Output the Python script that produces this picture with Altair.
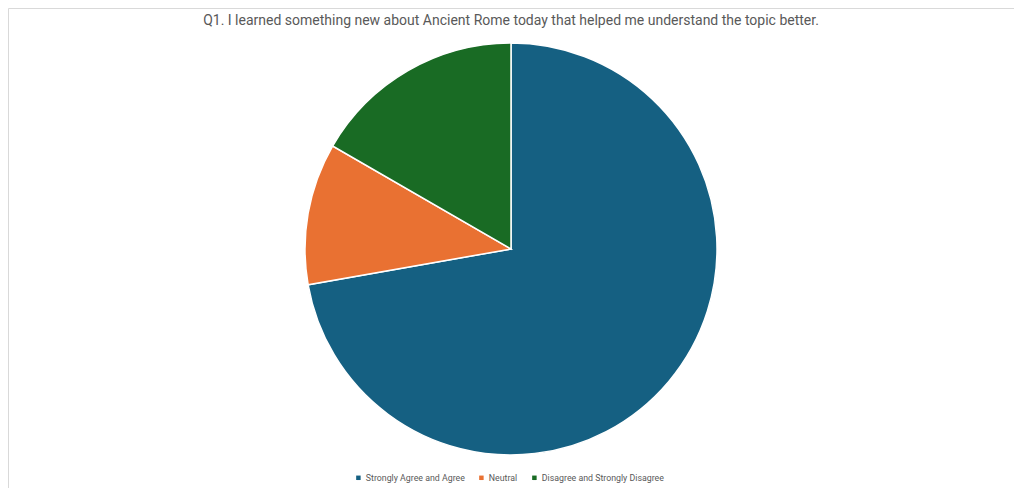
import altair as alt
import pandas as pd

categories = ["Strongly Agree and Agree", "Neutral", "Disagree and Strongly Disagree"]
counts = [13, 2, 3]
colors = ["#156082", "#E97132", "#196B24"]
title_text = "Q1. I learned something new about Ancient Rome today that helped me understand the topic better."

df = pd.DataFrame({"category": categories, "count": counts, "idx": list(range(len(categories)))})

W, H = 1006, 480
cx, cy, R = 503, 241, 206

pie = alt.Chart(df).mark_arc(stroke="white", strokeWidth=1.5, radius=R).encode(
    theta=alt.Theta("count:Q", stack=True),
    order=alt.Order("idx:Q"),
    color=alt.Color(
        "category:N",
        sort=categories,
        scale=alt.Scale(domain=categories, range=colors),
        legend=alt.Legend(
            title=None,
            orient="none",
            direction="horizontal",
            legendX=346,
            legendY=465,
            symbolType="square",
            symbolSize=20,
            symbolStrokeWidth=0,
            labelFontSize=8.8,
            labelColor="#595959",
            labelFont="Roboto",
            columnPadding=12,
            labelOffset=3,
        ),
    ),
    x=alt.value(cx),
    y=alt.value(cy),
)

title = alt.Chart(pd.DataFrame({"t": [title_text]})).mark_text(
    fontSize=14, font="Roboto", color="#595959", align="center", baseline="middle"
).encode(text="t:N", x=alt.value(cx), y=alt.value(13))

chart = alt.layer(pie, title).properties(
    width=W, height=H, padding=0, background="white"
).configure_view(stroke="#d9d9d9", strokeWidth=1)

chart.save("out.html", embed_options={"renderer": "svg", "actions": False})
